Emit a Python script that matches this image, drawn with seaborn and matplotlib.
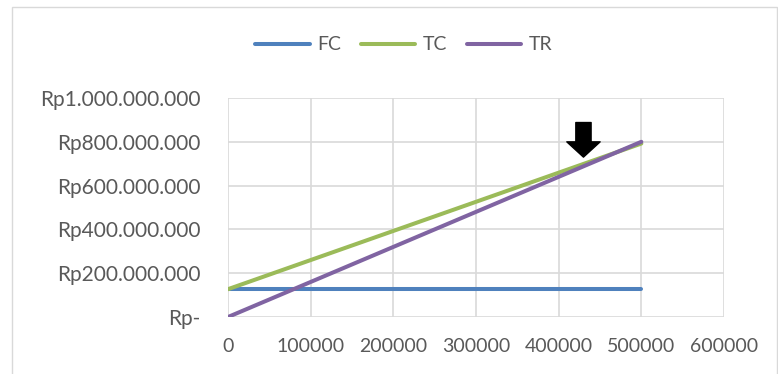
import numpy as np
import pandas as pd
import matplotlib
matplotlib.use("Agg")
import matplotlib.pyplot as plt
from matplotlib.patches import Rectangle
from matplotlib.ticker import FuncFormatter
import seaborn as sns

# data
output_units = [0, 100000, 200000, 300000, 400000, 500000]
fc_values = [127_000_000, 127_000_000, 127_000_000, 127_000_000, 127_000_000, 127_000_000]
tc_values = [127_000_000, 260_000_000, 393_000_000, 526_000_000, 659_000_000, 792_000_000]
tr_values = [0, 160_000_000, 320_000_000, 480_000_000, 640_000_000, 800_000_000]
series_names = ["FC", "TC", "TR"]
series_colors = ["#4f81bd", "#9bbb59", "#8064a2"]
x_ticks = [0, 100000, 200000, 300000, 400000, 500000, 600000]
y_ticks = [0, 200_000_000, 400_000_000, 600_000_000, 800_000_000, 1_000_000_000]
bep_x = 430000
arrow_top, arrow_tip = 888_000_000, 730_000_000

df = pd.DataFrame({
    "Q": output_units * 3,
    "nilai": fc_values + tc_values + tr_values,
    "seri": [s for s in series_names for _ in output_units],
})

sns.set_theme(style="white")
plt.rcParams["font.family"] = ["Lato", "DejaVu Sans"]
text_col = "#595959"
grid_col = "#d9d9d9"

fig = plt.figure(figsize=(7.78, 3.74), dpi=100)
ax = fig.add_axes([228 / 778, 1 - 317 / 374, (724 - 228) / 778, (317 - 98) / 374])

# outer chart frame (Excel style)
fig.patches.append(Rectangle((12 / 778, -0.2), (777 - 12) / 778, 1.2 - 7 / 374,
                             transform=fig.transFigure, fill=False,
                             edgecolor=grid_col, lw=1.0))

sns.lineplot(data=df, x="Q", y="nilai", hue="seri", hue_order=series_names,
             palette=series_colors, lw=2.9, ax=ax, legend=True)

ax.set_xlim(0, 600000)
ax.set_ylim(0, 1_000_000_000)
ax.set_xticks(x_ticks)
ax.set_yticks(y_ticks)


def rupiah(v, pos):
    if v == 0:
        return "Rp-"
    return "Rp" + f"{int(v):,}".replace(",", ".")


ax.yaxis.set_major_formatter(FuncFormatter(rupiah))
ax.xaxis.set_major_formatter(FuncFormatter(lambda v, p: f"{int(v)}"))
ax.grid(True, color=grid_col, lw=1.2)
for sp in ax.spines.values():
    sp.set_visible(False)
ax.tick_params(axis="y", length=0, pad=20, labelsize=15, labelcolor=text_col)
ax.tick_params(axis="x", length=0, pad=15, labelsize=14, labelcolor=text_col)
ax.set_xlabel("")
ax.set_ylabel("")

# break-even arrow
ax.annotate("", xy=(bep_x, arrow_tip), xytext=(bep_x, arrow_top),
            arrowprops=dict(arrowstyle="simple,head_width=2.4,head_length=1.1,tail_width=1.1",
                            mutation_scale=10, color="black", shrinkA=0, shrinkB=0))

handles, labels = ax.get_legend_handles_labels()
ax.legend(handles, labels, loc="center", bbox_to_anchor=(404 / 778, 1 - 45 / 374),
          bbox_transform=fig.transFigure, ncol=3, frameon=False,
          fontsize=14, labelcolor=text_col, handlelength=2.8,
          handletextpad=0.4, columnspacing=1.0)

fig.savefig("out.png", dpi=100)
